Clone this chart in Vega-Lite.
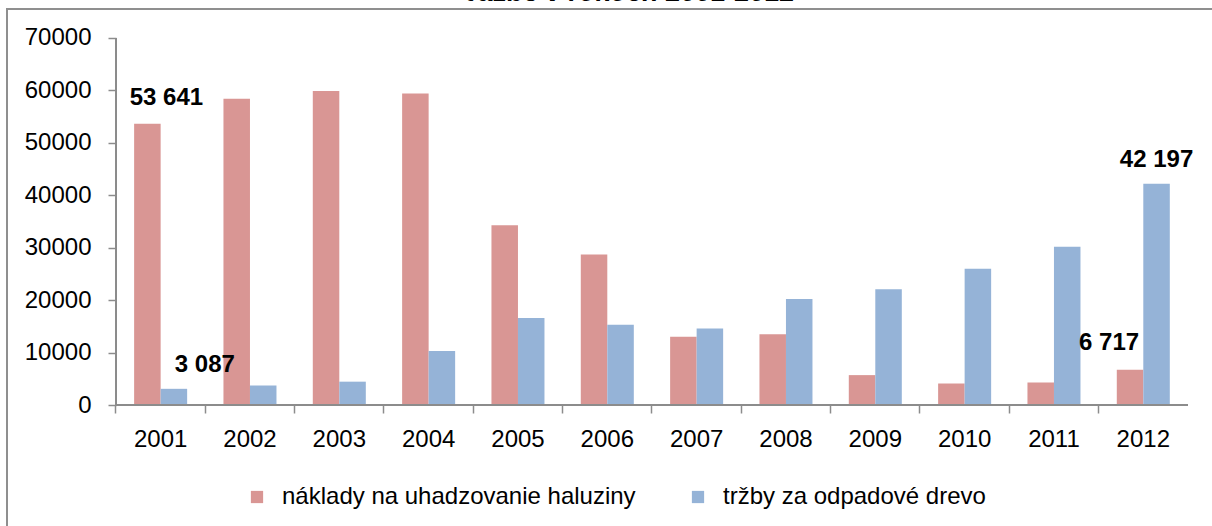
{
  "$schema": "https://vega.github.io/schema/vega-lite/v6.json",
  "autosize": {"type": "none"},
  "padding": {"left": 7, "top": 9, "right": 0, "bottom": 0},
  "width": 1215,
  "height": 530,
  "background": "white",
  "title": {"text": "ťažbe v rokoch 2001-2012", "font": "Liberation Sans", "fontSize": 27, "fontWeight": "bold", "fontStyle": "italic", "anchor": "middle", "color": "#000000", "offset": 2, "dx": 16},
  "config": {
    "view": {"stroke": "#8f8f8f", "strokeWidth": 2, "fill": "white"},
    "font": "Liberation Sans"
  },
  "data": {"values": [
    {"year": "2001", "series": "náklady na uhadzovanie haluziny", "value": 53641, "label": "53 641"},
    {"year": "2002", "series": "náklady na uhadzovanie haluziny", "value": 58400, "label": ""},
    {"year": "2003", "series": "náklady na uhadzovanie haluziny", "value": 59900, "label": ""},
    {"year": "2004", "series": "náklady na uhadzovanie haluziny", "value": 59400, "label": ""},
    {"year": "2005", "series": "náklady na uhadzovanie haluziny", "value": 34300, "label": ""},
    {"year": "2006", "series": "náklady na uhadzovanie haluziny", "value": 28700, "label": ""},
    {"year": "2007", "series": "náklady na uhadzovanie haluziny", "value": 13000, "label": ""},
    {"year": "2008", "series": "náklady na uhadzovanie haluziny", "value": 13500, "label": ""},
    {"year": "2009", "series": "náklady na uhadzovanie haluziny", "value": 5700, "label": ""},
    {"year": "2010", "series": "náklady na uhadzovanie haluziny", "value": 4100, "label": ""},
    {"year": "2011", "series": "náklady na uhadzovanie haluziny", "value": 4300, "label": ""},
    {"year": "2012", "series": "náklady na uhadzovanie haluziny", "value": 6717, "label": "6 717"},
    {"year": "2001", "series": "tržby za odpadové drevo", "value": 3087, "label": "3 087"},
    {"year": "2002", "series": "tržby za odpadové drevo", "value": 3700, "label": ""},
    {"year": "2003", "series": "tržby za odpadové drevo", "value": 4450, "label": ""},
    {"year": "2004", "series": "tržby za odpadové drevo", "value": 10300, "label": ""},
    {"year": "2005", "series": "tržby za odpadové drevo", "value": 16600, "label": ""},
    {"year": "2006", "series": "tržby za odpadové drevo", "value": 15300, "label": ""},
    {"year": "2007", "series": "tržby za odpadové drevo", "value": 14600, "label": ""},
    {"year": "2008", "series": "tržby za odpadové drevo", "value": 20200, "label": ""},
    {"year": "2009", "series": "tržby za odpadové drevo", "value": 22100, "label": ""},
    {"year": "2010", "series": "tržby za odpadové drevo", "value": 26000, "label": ""},
    {"year": "2011", "series": "tržby za odpadové drevo", "value": 30200, "label": ""},
    {"year": "2012", "series": "tržby za odpadové drevo", "value": 42197, "label": "42 197"}
  ]},
  "encoding": {
    "x": {"field": "year", "type": "nominal", "sort": null,
      "scale": {"paddingInner": 0, "paddingOuter": 0.8004, "align": 0.762},
      "axis": {"title": null, "domain": false, "labelAngle": 0, "bandPosition": 0, "offset": -134,
        "tickSize": 8, "tickColor": "#8c8c8c", "tickWidth": 1.5, "labelFont": "Liberation Sans", "labelFontSize": 24, "labelColor": "#000000", "labelPadding": 14}},
    "xOffset": {"field": "series", "type": "nominal", "scale": {"paddingOuter": 0.685, "paddingInner": 0}},
    "y": {"field": "value", "type": "quantitative",
      "scale": {"domain": [-25558, 75531], "nice": false, "zero": false},
      "axis": {"title": null, "domain": false, "grid": false, "offset": -109, "values": [0, 10000, 20000, 30000, 40000, 50000, 60000, 70000], "format": "d",
        "tickSize": 8, "tickColor": "#8c8c8c", "tickWidth": 1.5, "labelFont": "Liberation Sans", "labelFontSize": 24, "labelColor": "#000000", "labelPadding": 17}}
  },
  "layer": [
    {
      "mark": {"type": "bar"},
      "encoding": {
        "color": {"field": "series", "type": "nominal",
          "scale": {"domain": ["náklady na uhadzovanie haluziny", "tržby za odpadové drevo"], "range": ["#D99694", "#95B3D7"]},
          "legend": {"title": null, "orient": "none", "legendX": 238, "legendY": 476, "direction": "horizontal",
            "symbolType": "square", "symbolSize": 150, "symbolStrokeWidth": 0, "labelFont": "Liberation Sans", "labelFontSize": 24, "labelColor": "#000000",
            "labelLimit": 0, "labelOffset": 13, "columnPadding": 50}}
      }
    },
    {
      "mark": {"type": "rule", "color": "#8c8c8c", "strokeWidth": 1.5},
      "encoding": {
        "x": {"datum": "2001", "bandPosition": 0},
        "x2": {"datum": "2012", "bandPosition": 1},
        "y": {"datum": 0},
        "xOffset": null
      }
    },
    {
      "mark": {"type": "rule", "color": "#8c8c8c", "strokeWidth": 1.5},
      "encoding": {
        "x": {"datum": "2001", "bandPosition": 0},
        "y": {"datum": 0},
        "y2": {"datum": 70000},
        "xOffset": null
      }
    },
    {
      "transform": [{"filter": "datum.label == '53 641'"}],
      "mark": {"type": "text", "fontSize": 24, "fontWeight": "bold", "baseline": "middle", "dx": 19, "dy": -26, "color": "#000000"},
      "encoding": {"text": {"field": "label"}}
    },
    {
      "transform": [{"filter": "datum.label == '3 087'"}],
      "mark": {"type": "text", "fontSize": 24, "fontWeight": "bold", "baseline": "middle", "dx": 31, "dy": -24, "color": "#000000"},
      "encoding": {"text": {"field": "label"}}
    },
    {
      "transform": [{"filter": "datum.label == '6 717'"}],
      "mark": {"type": "text", "fontSize": 24, "fontWeight": "bold", "baseline": "middle", "dx": -21, "dy": -27, "color": "#000000"},
      "encoding": {"text": {"field": "label"}}
    },
    {
      "transform": [{"filter": "datum.label == '42 197'"}],
      "mark": {"type": "text", "fontSize": 24, "fontWeight": "bold", "baseline": "middle", "dx": 0, "dy": -24, "color": "#000000"},
      "encoding": {"text": {"field": "label"}}
    }
  ]
}
